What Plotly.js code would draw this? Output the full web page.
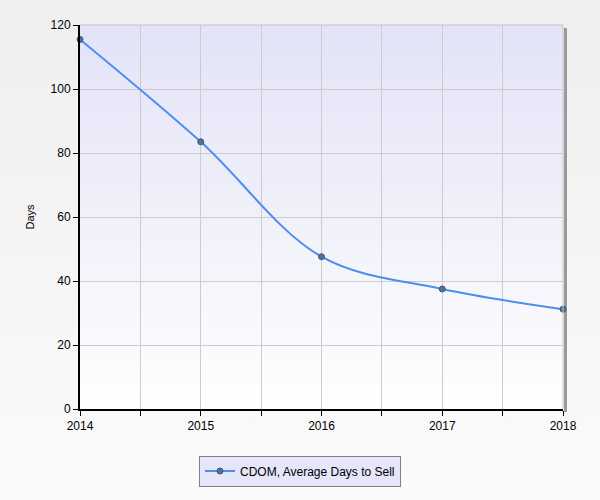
<!DOCTYPE html>
<html>
<head>
<meta charset="utf-8">
<script src="https://cdn.plot.ly/plotly-3.0.1.min.js"></script>
<style>
html,body{margin:0;padding:0;}
body{width:600px;height:500px;background:linear-gradient(to bottom,#efefef 0%,#f6f6f6 60%,#fbfbfb 100%);position:relative;overflow:hidden;}
#plotbg{position:absolute;left:80px;top:25px;width:483px;height:384px;background:linear-gradient(to bottom,#e3e3f8 0%,#efeffa 45%,#ffffff 100%);}
#pshadow{position:absolute;left:564px;top:28px;width:3px;height:384px;background:#9a9a9a;}
#lshadow{position:absolute;left:204px;top:461px;width:196px;height:26px;background:#a0a0a0;}
#chart{position:absolute;left:0;top:0;width:600px;height:500px;}
</style>
</head>
<body>
<div id="pshadow"></div>
<div id="lshadow"></div>
<div id="plotbg"></div>
<div id="chart"></div>
<script>
var years = [2014, 2015, 2016, 2017, 2018];
var days = [115.5, 83.5, 47.6, 37.5, 31.2];
var seriesName = "CDOM, Average Days to Sell";
var yTitle = "Days";

var trace = {
  x: years, y: days, name: seriesName, type: 'scatter', mode: 'lines+markers',
  line: {color: '#4a8ef0', width: 2, shape: 'spline', smoothing: 1},
  marker: {size: 6, color: '#4f7396', line: {color: '#3c5a78', width: 1}},
  cliponaxis: false
};
var layout = {
  width: 600, height: 500,
  margin: {l: 80, r: 37, t: 25, b: 91},
  paper_bgcolor: 'rgba(0,0,0,0)', plot_bgcolor: 'rgba(0,0,0,0)',
  font: {family: 'Liberation Sans, Arial, sans-serif', size: 12, color: '#000'},
  showlegend: true,
  xaxis: {
    range: [2014, 2018], dtick: 1, tick0: 2014, showgrid: true, gridcolor: '#cccccc', gridwidth: 1,
    ticks: 'outside', ticklen: 5, tickcolor: '#000', showline: true, linecolor: '#000', linewidth: 2,
    zeroline: false, tickfont: {size: 12},
    minor: {dtick: 0.5, ticks: 'outside', ticklen: 5, tickcolor: '#000', showgrid: true, gridcolor: '#cccccc'}
  },
  yaxis: {
    range: [0, 120], dtick: 20, showgrid: true, gridcolor: '#cccccc', gridwidth: 1,
    ticks: 'outside', ticklen: 5, tickcolor: '#000', showline: true, linecolor: '#000', linewidth: 2,
    zeroline: false, tickfont: {size: 12},
    title: {text: yTitle, font: {size: 11}, standoff: 14}
  },
  shapes: [
    {type: 'line', xref: 'paper', yref: 'paper', x0: 0, x1: 1, y0: 1, y1: 1, line: {color: '#c4c4c4', width: 1}},
    {type: 'line', xref: 'paper', yref: 'paper', x0: 1, x1: 1, y0: 0, y1: 1, line: {color: '#c4c4c4', width: 1}}
  ],
  legend: {
    orientation: 'h', xref: 'container', yref: 'container', x: 0.5, xanchor: 'center', y: 0.058, yanchor: 'middle',
    bgcolor: '#e6e6fa', bordercolor: '#808080', borderwidth: 1, font: {size: 12}
  }
};
Plotly.newPlot('chart', [trace], layout, {displayModeBar: false, staticPlot: true});
</script>
</body>
</html>
